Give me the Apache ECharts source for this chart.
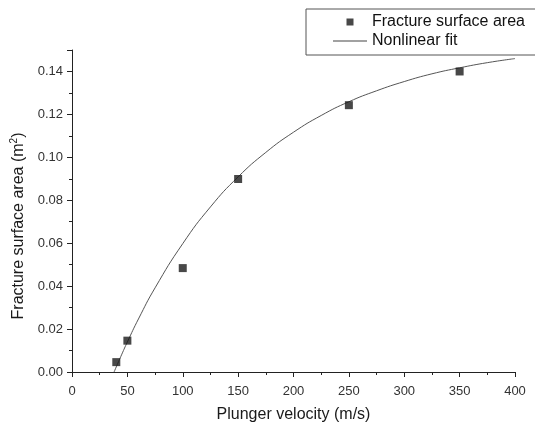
<!DOCTYPE html>
<html>
<head>
<meta charset="utf-8">
<script src="https://cdn.jsdelivr.net/npm/echarts@6/dist/echarts.min.js"></script>
<style>html,body{margin:0;padding:0;background:#fff}#c{width:535px;height:428px}</style>
</head>
<body>
<div id="c"></div>
<script>
// Measured data points
const velocity = [40, 50, 100, 150, 250, 350];
const area = [0.0046, 0.0146, 0.0484, 0.0899, 0.1243, 0.1400];
// Nonlinear fit curve
const fitVelocity = [38, 40, 45, 50, 60, 75, 100, 125, 150, 175, 200, 225, 250, 275, 300, 325, 350, 375, 400];
const fitArea = [0.0, 0.0024, 0.0083, 0.0140, 0.0247, 0.0392, 0.0598, 0.0769, 0.0909, 0.1023, 0.1117, 0.1195, 0.1259, 0.1310, 0.1353, 0.1389, 0.1417, 0.1441, 0.1460];

const FONT = '"Liberation Sans", Arial, sans-serif';
const AX = '#222';

const chart = echarts.init(document.getElementById('c'), null, {renderer: 'canvas'});
chart.setOption({
  animation: false,
  backgroundColor: '#fff',
  grid: {left: 72, right: 20, top: 50, bottom: 54, containLabel: false},
  legend: {
    orient: 'vertical', left: 306, top: 9,
    padding: [5, 60, 6, 27],
    itemWidth: 34, itemHeight: 7, itemGap: 3,
    symbolKeepAspect: true,
    borderColor: '#555', borderWidth: 1,
    textStyle: {fontFamily: FONT, fontSize: 16, color: '#111'},
    data: [
      {name: 'Fracture surface area', icon: 'path://M0,0L10,0L10,10L0,10Z'},
      {name: 'Nonlinear fit', icon: 'path://M0,0L34,0L34,1L0,1Z'}
    ]
  },
  xAxis: {
    type: 'value', min: 0, max: 400, interval: 50,
    name: 'Plunger velocity (m/s)', nameLocation: 'middle', nameGap: 35,
    nameTextStyle: {fontFamily: FONT, fontSize: 16, color: '#1a1a1a'},
    axisLine: {show: true, onZero: false, lineStyle: {color: AX, width: 1}},
    axisTick: {show: true, length: 5, lineStyle: {color: AX}},
    minorTick: {show: true, splitNumber: 2, length: 3, lineStyle: {color: AX}},
    axisLabel: {fontFamily: FONT, fontSize: 13, color: '#333', margin: 13},
    splitLine: {show: false}
  },
  yAxis: {
    type: 'value', min: 0, max: 0.15, interval: 0.02,
    name: 'Fracture surface area (m{sup|2})', nameLocation: 'middle', nameGap: 41,
    nameTextStyle: {fontFamily: FONT, fontSize: 16, color: '#1a1a1a', padding: [0, 30, 0, 0],
      rich: {sup: {fontFamily: FONT, fontSize: 10, color: '#1a1a1a', padding: [0, 0, 9, 0]}}},
    axisLine: {show: true, onZero: false, lineStyle: {color: AX, width: 1}},
    axisTick: {show: true, length: 5, lineStyle: {color: AX}},
    minorTick: {show: true, splitNumber: 2, length: 3, lineStyle: {color: AX}},
    axisLabel: {fontFamily: FONT, fontSize: 13, color: '#333', margin: 9, showMaxLabel: false,
      formatter: v => v.toFixed(2)},
    splitLine: {show: false}
  },
  series: [
    {
      name: 'Fracture surface area', type: 'scatter',
      data: velocity.map((v, i) => [v, area[i]]),
      symbol: 'rect', symbolSize: 8,
      itemStyle: {color: '#1a1a1a'}, z: 3
    },
    {
      name: 'Nonlinear fit', type: 'line',
      data: fitVelocity.map((v, i) => [v, fitArea[i]]),
      smooth: true, symbol: 'none', showSymbol: false,
      lineStyle: {color: '#555', width: 1},
      itemStyle: {color: '#444'}, z: 2
    }
  ]
});
</script>
</body>
</html>
